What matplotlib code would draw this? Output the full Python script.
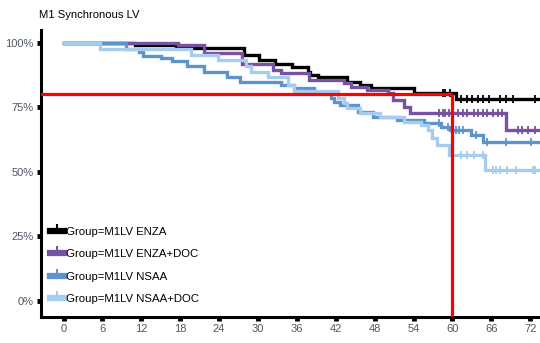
import numpy as np
import matplotlib.pyplot as plt

plt.rcParams['font.family'] = ['Liberation Sans', 'DejaVu Sans']

# Kaplan-Meier step points (months, survival) for each group
enza_t = [0, 11.0, 17.3, 27.8, 30.1, 32.7, 35.3, 37.7, 38.1, 39.2, 43.8, 45.8, 47.4, 54.0, 60.5]
enza_s = [1.0, 0.99, 0.98, 0.953, 0.934, 0.919, 0.907, 0.888, 0.876, 0.868, 0.849, 0.837, 0.826, 0.806, 0.783]
enza_cens = [58.5, 58.9, 59.7, 61.3, 62.3, 63.1, 63.9, 64.7, 65.6, 67.4, 68.2, 69.3, 72.8]

enzadoc_t = [0, 17.6, 21.6, 27.6, 32.3, 33.5, 37.9, 43.2, 44.3, 46.9, 50.0, 50.9, 52.5, 53.5, 68.2]
enzadoc_s = [1.0, 0.99, 0.96, 0.918, 0.895, 0.882, 0.857, 0.845, 0.83, 0.818, 0.806, 0.78, 0.752, 0.729, 0.663]
enzadoc_cens = [57.9, 58.5, 58.9, 59.4, 60.8, 61.6, 62.3, 63.3, 63.9, 64.7, 65.4, 66.2, 67.0, 67.7,
                70.1, 70.8, 71.6, 72.8]

nsaa_t = [0, 9.6, 11.6, 12.3, 15.0, 16.8, 19.1, 21.6, 25.3, 27.3, 33.5, 35.5, 38.6, 41.2, 41.7,
          42.7, 45.4, 47.8, 51.5, 55.6, 58.2, 59.7, 62.8, 64.7]
nsaa_s = [1.0, 0.977, 0.965, 0.95, 0.94, 0.93, 0.91, 0.888, 0.868, 0.849, 0.837, 0.826, 0.806, 0.787,
          0.771, 0.76, 0.733, 0.713, 0.702, 0.69, 0.674, 0.663, 0.643, 0.616]
nsaa_cens = [57.9, 59.3, 60.0, 60.5, 61.0, 61.6, 63.6, 65.4, 68.2, 72.1]

nsaadoc_t = [0, 5.6, 19.6, 23.9, 28.1, 28.9, 31.6, 34.6, 35.5, 42.4, 43.2, 43.8, 45.8, 48.9, 52.5,
             55.1, 56.2, 56.9, 57.7, 59.4, 65.1]
nsaadoc_s = [1.0, 0.977, 0.953, 0.934, 0.91, 0.888, 0.868, 0.837, 0.814, 0.787, 0.767, 0.748, 0.729,
             0.713, 0.694, 0.682, 0.663, 0.632, 0.605, 0.566, 0.508]
nsaadoc_cens = [61.3, 62.3, 63.3, 64.7, 66.2, 66.7, 67.4, 68.5, 69.8, 72.4, 72.8]

labels = ['Group=M1LV ENZA', 'Group=M1LV ENZA+DOC', 'Group=M1LV NSAA', 'Group=M1LV NSAA+DOC']
colors = ['#000000', '#7652a0', '#5f93cc', '#a6cdee']

groups = [(enza_t, enza_s, enza_cens), (enzadoc_t, enzadoc_s, enzadoc_cens),
          (nsaa_t, nsaa_s, nsaa_cens), (nsaadoc_t, nsaadoc_s, nsaadoc_cens)]

t_end = 74
ref_month = 60
ref_surv = 0.80

fig = plt.figure(figsize=(5.4, 3.43), dpi=100)
ax = fig.add_axes([0.075, 0.076, 0.926, 0.837])

for i, ((t, s, cens), lab, col) in enumerate(zip(groups, labels, colors)):
    tt = np.append(t, t_end)
    ss = np.append(s, s[-1])
    ax.step(tt, ss, where='post', color=col, lw=2.4, zorder=2 + i,
            solid_joinstyle='miter')
    idx = np.searchsorted(t, cens, side='right') - 1
    ax.plot(cens, np.array(s)[idx], ls='none', marker='|', ms=6, mew=1.3,
            color=col, zorder=2 + i)
    ax.plot([], [], color=col, lw=4.5, marker=2, ms=5, mew=1.5, label=lab)

# reference lines at 60 months / 80%
ax.plot([-5, ref_month], [ref_surv, ref_surv], color='#ff0000', lw=2.3, zorder=10,
        solid_capstyle='butt')
ax.plot([ref_month, ref_month], [-0.1, ref_surv], color='#ff0000', lw=2.3, zorder=10,
        solid_capstyle='butt')

ax.set_xlim(-3.55, 73.6)
ax.set_ylim(-0.062, 1.05)
ax.set_xticks(np.arange(0, 73, 6))
ax.set_yticks([0, 0.25, 0.5, 0.75, 1.0])
ax.set_yticklabels(['0%', '25%', '50%', '75%', '100%'])

for side in ['top', 'right']:
    ax.spines[side].set_visible(False)
for side in ['left', 'bottom']:
    ax.spines[side].set_linewidth(2.2)
ax.tick_params(direction='out', length=3, width=3.5, colors='black',
               labelcolor='#4f5662', labelsize=8, pad=2)

ax.set_title('M1 Synchronous LV', loc='left', fontsize=8.1, x=-0.002, y=1.04, pad=0)

ax.legend(loc='lower left', bbox_to_anchor=(-0.006, 0.0), frameon=False, fontsize=8.2,
          handlelength=1.25, handletextpad=0.15, labelspacing=1.1, borderaxespad=0.7,
          numpoints=1)

fig.savefig('out.png', dpi=100)
